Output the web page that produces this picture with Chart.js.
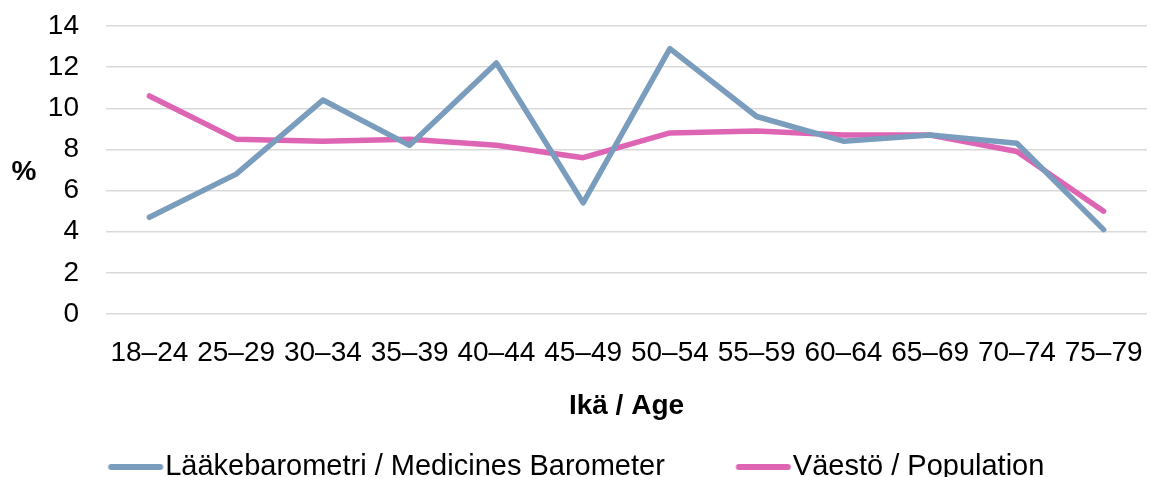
<!DOCTYPE html>
<html><head><meta charset="utf-8">
<script src="https://cdn.jsdelivr.net/npm/chart.js@4/dist/chart.umd.min.js"></script>
<style>html,body{margin:0;padding:0;background:#fff}#wrap{width:1150px;height:477px;overflow:hidden}</style>
</head><body><div id="wrap"><canvas id="c" width="1150" height="477"></canvas></div>
<script>
const categories = ['18–24','25–29','30–34','35–39','40–44','45–49','50–54','55–59','60–64','65–69','70–74','75–79'];
const medicinesBarometer = [4.7, 6.8, 10.4, 8.2, 12.2, 5.4, 12.9, 9.6, 8.4, 8.7, 8.3, 4.1];
const population = [10.6, 8.5, 8.4, 8.5, 8.2, 7.6, 8.8, 8.9, 8.7, 8.7, 7.9, 5.0];
const seriesNames = ['Lääkebarometri / Medicines Barometer', 'Väestö / Population'];
const yTickValues = [0, 2, 4, 6, 8, 10, 12, 14];
const yAxisLabel = '%';
const xAxisLabel = 'Ikä / Age';

const colors = ['#7a9cbd', '#de64b4'];
const FONT = '"Liberation Sans", Arial, sans-serif';
Chart.defaults.font.family = FONT;
Chart.defaults.color = '#000';

function legendLine(color) {
  const c = document.createElement('canvas');
  c.width = 80; c.height = 10;
  const g = c.getContext('2d');
  g.strokeStyle = color; g.lineWidth = 6; g.lineCap = 'round';
  g.beginPath(); g.moveTo(24.5, 5); g.lineTo(73.5, 5); g.stroke();
  return c;
}
const legendImgs = colors.map(legendLine);

const percentLabel = {
  id: 'percentLabel',
  afterDraw(chart) {
    const ctx = chart.ctx;
    ctx.save();
    ctx.font = 'bold 28px ' + FONT;
    ctx.fillStyle = '#000';
    ctx.textAlign = 'center';
    ctx.textBaseline = 'middle';
    ctx.fillText(yAxisLabel, 24, 172);
    ctx.restore();
  }
};

new Chart(document.getElementById('c'), {
  type: 'line',
  data: {
    labels: categories,
    datasets: [
      { label: seriesNames[0], data: medicinesBarometer, borderColor: colors[0], backgroundColor: colors[0],
        borderWidth: 5.5, pointRadius: 0, tension: 0, borderCapStyle: 'round', borderJoinStyle: 'round' },
      { label: seriesNames[1], data: population, borderColor: colors[1], backgroundColor: colors[1],
        borderWidth: 5.5, pointRadius: 0, tension: 0, borderCapStyle: 'round', borderJoinStyle: 'round' }
    ]
  },
  options: {
    responsive: false,
    animation: false,
    devicePixelRatio: 1,
    layout: { padding: { left: 0, right: 3, top: 26, bottom: -14.5 } },
    plugins: {
      tooltip: { enabled: false },
      legend: {
        position: 'bottom',
        labels: {
          usePointStyle: true,
          pointStyleWidth: 48,
          padding: 65.5,
          color: '#000',
          font: { size: 29 },
          generateLabels(chart) {
            const items = Chart.defaults.plugins.legend.labels.generateLabels(chart);
            items.forEach((it, i) => { it.pointStyle = legendImgs[i]; });
            return items;
          }
        }
      }
    },
    scales: {
      x: {
        offset: true,
        grid: { display: false, drawTicks: false },
        border: { display: false },
        ticks: { font: { size: 28 }, color: '#000', padding: 22, maxRotation: 0, minRotation: 0, autoSkip: false },
        title: { display: true, text: xAxisLabel, font: { size: 28, weight: 'bold' }, color: '#000', padding: { top: 0, bottom: -36 } },
        afterFit(scale) { scale.height = 73; scale.paddingLeft = 0; scale.paddingRight = 0; }
      },
      y: {
        min: 0, max: 14,
        afterBuildTicks(scale) { scale.ticks = yTickValues.map(v => ({ value: v })); },
        grid: { color: '#d9d9d9', lineWidth: 1.5, drawTicks: false },
        border: { display: false },
        ticks: { font: { size: 28 }, color: '#000', padding: 27 },
        afterFit(scale) { scale.width = 106; scale.paddingTop = 0; scale.paddingBottom = 0; }
      }
    }
  },
  plugins: [percentLabel]
});
</script>
</body></html>
